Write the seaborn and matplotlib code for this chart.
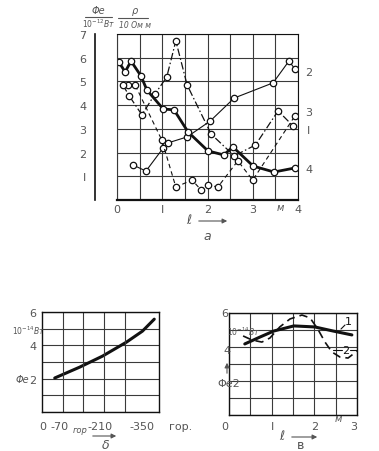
import numpy as np
import pandas as pd
import matplotlib
matplotlib.use("Agg")
import matplotlib.pyplot as plt
import seaborn as sns
from matplotlib.lines import Line2D

# ---------------- data ----------------
# panel "a": l, m  vs  Фe / rho
c1_x = [0.24, 0.40, 0.99, 1.30, 1.66, 1.86, 2.01, 2.23, 2.67, 3.00, 3.93]
c1_y = [4.85, 4.85, 2.53, 0.55, 0.84, 0.42, 0.63, 0.55, 1.65, 0.84, 3.54]
c2_x = [0.35, 0.64, 1.02, 1.13, 1.55, 2.06, 2.59, 3.45, 3.80, 3.93]
c2_y = [1.48, 1.22, 2.19, 2.41, 2.66, 3.33, 4.30, 4.94, 5.86, 5.53]
c3_x = [0.13, 0.27, 0.55, 0.84, 1.10, 1.30, 1.55, 2.08, 2.59, 3.06, 3.56, 3.89]
c3_y = [4.85, 4.39, 3.59, 4.47, 5.19, 6.71, 4.85, 2.78, 1.86, 2.32, 3.76, 3.12]
c4_x = [0.04, 0.18, 0.31, 0.53, 0.66, 1.02, 1.26, 1.57, 2.01, 2.36, 2.56, 3.01, 3.47, 3.93]
c4_y = [5.82, 5.40, 5.86, 5.23, 4.64, 3.84, 3.80, 2.87, 2.07, 1.90, 2.24, 1.43, 1.18, 1.35]
a_xticklabels = ["0", "", "I", "", "2", "", "3", "", "4"]
a_yticklabels = ["", "I", "2", "3", "4", "5", "6", "7"]

# panel "б": horizon depth vs Фe
b_x = [-43, -127, -204, -285, -339, -379]
b_y = [2.04, 2.69, 3.35, 4.19, 4.85, 5.57]

# panel "в": l, m vs Фe
v1_x = [0.37, 0.73, 1.05, 1.52, 2.01, 2.44, 2.88]
v1_y = [4.18, 4.59, 4.94, 5.24, 5.18, 4.94, 4.71]
v2_x = [0.33, 0.54, 0.77, 0.96, 1.19, 1.43, 1.71, 1.90, 2.08, 2.25, 2.41, 2.60, 2.79, 3.00]
v2_y = [4.65, 4.41, 4.29, 4.53, 5.18, 5.65, 5.88, 5.71, 5.06, 4.29, 3.71, 3.41, 3.35, 3.76]

# ---------------- style ----------------
sns.set_style("white")
plt.rcParams["font.family"] = ["DejaVu Sans"]
INK = "#111111"
GRID = "#3a3a3a"
TXT = "#555555"

W, H = 379, 452
fig = plt.figure(figsize=(W / 100, H / 100), dpi=100)


def axrect(l, t, r, b):
    return [l / W, 1 - b / H, (r - l) / W, (b - t) / H]


def ft(px, py, s, **kw):
    ha = kw.pop("ha", "center")
    va = kw.pop("va", "center")
    kw.setdefault("color", TXT)
    kw.setdefault("fontsize", 8)
    fig.text(px / W, 1 - py / H, s, ha=ha, va=va, **kw)


def fline(x1, y1, x2, y2, **kw):
    kw.setdefault("color", TXT)
    kw.setdefault("lw", 0.8)
    fig.add_artist(Line2D([x1 / W, x2 / W], [1 - y1 / H, 1 - y2 / H],
                          transform=fig.transFigure, **kw))


def farrow(x1, y1, x2, y2):
    fig.add_artist(matplotlib.patches.FancyArrowPatch(
        (x1 / W, 1 - y1 / H), (x2 / W, 1 - y2 / H), transform=fig.transFigure,
        arrowstyle="-|>", mutation_scale=7, lw=0.8, color=TXT))


mk = dict(marker="o", markersize=4.6, markerfacecolor="white",
          markeredgecolor=INK, markeredgewidth=0.9)

# ---------------- panel a ----------------
ax = fig.add_axes(axrect(117, 35, 298, 201))
sns.lineplot(x=c2_x, y=c2_y, sort=False, ax=ax, color=INK, lw=0.8, **mk)
sns.lineplot(x=c1_x, y=c1_y, sort=False, ax=ax, color=INK, lw=0.8,
             linestyle=(0, (4, 3)), **mk)
sns.lineplot(x=c3_x, y=c3_y, sort=False, ax=ax, color=INK, lw=0.9,
             linestyle=(0, (6, 2, 1.2, 2)), **mk)
sns.lineplot(x=c4_x, y=c4_y, sort=False, ax=ax, color=INK, lw=2.0, **mk)
ax.set_xlim(0, 4)
ax.set_ylim(0, 7)
ax.set_xticks(np.arange(0, 4.01, 0.5))
ax.set_xticklabels(a_xticklabels)
ax.set_yticks(range(8))
ax.set_yticklabels(a_yticklabels)
ax.set_xlabel("")
ax.set_ylabel("")
ax.grid(True, color=GRID, lw=0.8)
ax.tick_params(axis="x", length=0, pad=3, labelsize=8, labelcolor=TXT)
ax.tick_params(axis="y", direction="in", length=3, pad=6, labelsize=8,
               labelcolor=TXT, color=INK)
for s in ax.spines.values():
    s.set_color(INK)
    s.set_linewidth(0.8)
ax.spines["left"].set_position(("outward", 16))
ax.spines["left"].set_linewidth(1.2)
ax.spines["bottom"].set_linewidth(1.6)
ax.axvline(0, color=GRID, lw=0.8, clip_on=False)

ft(280, 208, "м", style="italic", fontsize=7)
ft(309, 73, "2")
ft(309, 113, "3")
ft(309, 131, "I")
ft(309, 170, "4")
ft(189, 221, "ℓ", style="italic", fontsize=9)
farrow(196, 222, 230, 222)
ft(207, 237, "a", style="italic", fontsize=9)
# header fractions
ft(98, 11, "Φe", style="italic", fontsize=7)
fline(85, 18, 112, 18)
ft(99, 24, r"$10^{-12}$Вт", style="italic", fontsize=5.5)
ft(135, 11, "ρ", style="italic", fontsize=7)
fline(118, 19, 148, 19)
ft(135, 25, "10 Ом м", style="italic", fontsize=5.5)

# ---------------- panel б ----------------
ax2 = fig.add_axes(axrect(42, 313, 159, 413))
sns.lineplot(x=b_x, y=b_y, sort=False, ax=ax2, color=INK, lw=2.2)
ax2.set_xlim(0, -395)
ax2.set_ylim(0, 6)
ax2.set_yticks(range(7))
ax2.set_yticklabels(["", "", "2", "", "4", "", "6"])
ax2.set_xticks([])
ax2.set_xlabel("")
ax2.set_ylabel("")
ax2.grid(True, axis="y", color=GRID, lw=0.8)
for xv in [-70, -140, -210, -280]:
    ax2.axvline(xv, color=GRID, lw=0.8)
ax2.tick_params(axis="y", length=0, pad=4, labelsize=8, labelcolor=TXT)
for s in ax2.spines.values():
    s.set_color(INK)
    s.set_linewidth(1.0)
ft(43, 427, "0")
ft(60, 427, "-70")
ft(80, 431, "гор", style="italic", fontsize=6)
ft(100, 427, "-210")
ft(142, 427, "-350")
ft(181, 427, "гор.")
farrow(90, 437, 119, 437)
ft(106, 446, "δ", style="italic", fontsize=9)
ft(29, 331, r"$10^{-14}$Вт", fontsize=5.5, style="italic")
ft(22, 380, "Φe", fontsize=7, style="italic")

# ---------------- panel в ----------------
ax3 = fig.add_axes(axrect(229, 314, 357, 416))
sns.lineplot(x=v1_x, y=v1_y, sort=False, ax=ax3, color=INK, lw=2.2)
sns.lineplot(x=v2_x, y=v2_y, sort=False, ax=ax3, color=INK, lw=1.2,
             linestyle=(0, (5, 3)))
ax3.set_xlim(0, 3)
ax3.set_ylim(0, 6)
ax3.set_xticks(np.arange(0, 3.01, 0.5))
ax3.set_yticks(range(7))
ax3.set_xticklabels([])
ax3.set_yticklabels([])
ax3.set_xlabel("")
ax3.set_ylabel("")
ax3.grid(True, color=GRID, lw=0.8)
ax3.tick_params(length=0)
for s in ax3.spines.values():
    s.set_color(INK)
    s.set_linewidth(1.0)
ft(225, 427, "0")
ft(273, 427, "I")
ft(315, 427, "2")
ft(338, 419, "м", style="italic", fontsize=7)
ft(354, 427, "3")
ft(225, 314, "6")
ft(227, 351, "4")
ft(229, 384, "Φe2", fontsize=8)
ft(244, 332, r"$10^{-14}$Вт", fontsize=5.5, style="italic")
farrow(227, 377, 227, 361)
ft(348, 322, "1", color=INK)
fline(341, 330, 345, 326, color=INK)
ft(346, 351, "2", color=INK)
fline(333, 351, 342, 351, color=INK)
fline(350, 351, 357, 351, color=INK)
ft(282, 437, "ℓ", style="italic", fontsize=9)
farrow(289, 438, 320, 438)
ft(301, 446, "в", fontsize=9)

fig.savefig("out.png", dpi=100)
